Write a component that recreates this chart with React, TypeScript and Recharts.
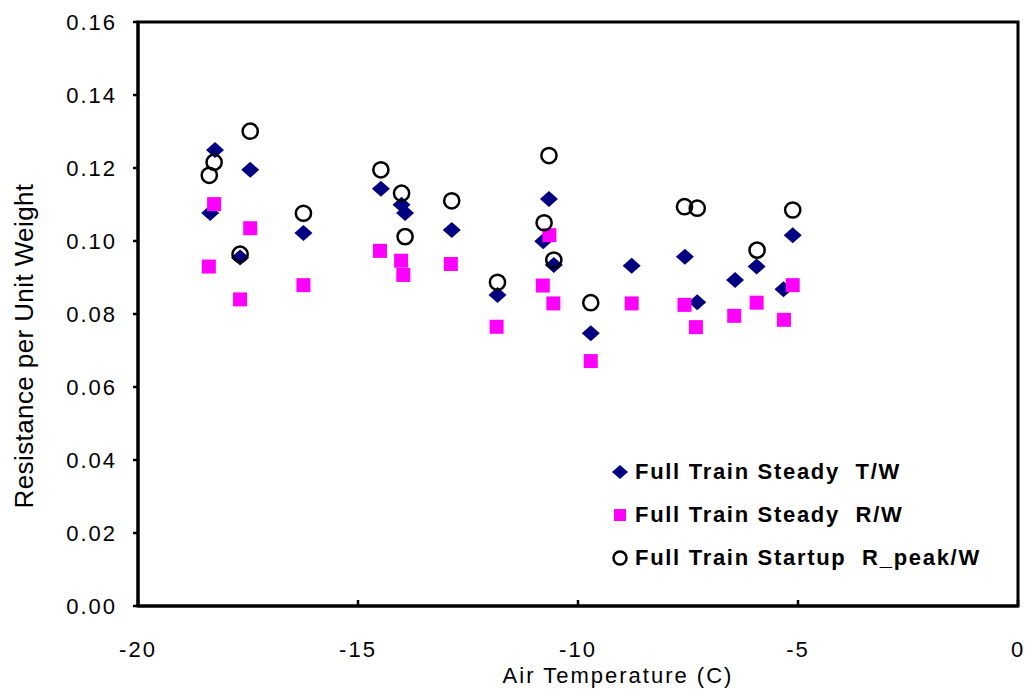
import React from 'react';
import { ScatterChart, Scatter, XAxis, YAxis, ReferenceArea, Legend, Label } from 'recharts';

// Full Train Steady T/W
const tempTW = [-18.36, -18.25, -17.45, -17.68, -16.24, -14.48, -14.01, -13.93, -12.87, -11.83, -10.79, -10.66, -10.55, -9.71, -8.78, -7.57, -7.29, -6.43, -5.94, -5.33, -5.12];
const valTW = [0.1077, 0.1249, 0.1195, 0.0955, 0.1022, 0.1143, 0.1099, 0.1077, 0.103, 0.0852, 0.0999, 0.1115, 0.0934, 0.0747, 0.0932, 0.0957, 0.0832, 0.0893, 0.093, 0.0868, 0.1016];

// Full Train Steady R/W
const tempRW = [-18.39, -18.27, -17.68, -17.45, -16.24, -14.5, -14.02, -13.97, -12.89, -11.85, -10.8, -10.65, -10.56, -9.71, -8.78, -7.58, -7.32, -6.45, -5.94, -5.32, -5.12];
const valRW = [0.093, 0.1101, 0.084, 0.1035, 0.0879, 0.0973, 0.0946, 0.0907, 0.0937, 0.0765, 0.0878, 0.1016, 0.0829, 0.0671, 0.0829, 0.0825, 0.0764, 0.0795, 0.0831, 0.0784, 0.0879];

// Full Train Startup R_peak/W
const tempPK = [-18.38, -18.27, -17.68, -17.45, -16.24, -14.48, -14.01, -13.93, -12.87, -11.83, -10.77, -10.66, -10.55, -9.71, -7.58, -7.29, -5.93, -5.12];
const valPK = [0.118, 0.1216, 0.0964, 0.1301, 0.1076, 0.1195, 0.1131, 0.1012, 0.111, 0.0887, 0.105, 0.1234, 0.0948, 0.0831, 0.1094, 0.109, 0.0975, 0.1085];

const xTicks = [-20, -15, -10, -5, 0];
const yTicks = [0, 0.02, 0.04, 0.06, 0.08, 0.1, 0.12, 0.14, 0.16];

const seriesNames = ['Full Train Steady  T/W', 'Full Train Steady  R/W', 'Full Train Startup  R_peak/W'];

const toPoints = (xs: number[], ys: number[]) => xs.map((x, i) => ({ x, y: ys[i] }));

const NAVY = '#000080';
const MAGENTA = '#ff00ff';
const FONT = 'Arial, "Liberation Sans", sans-serif';

const Diamond = (p: any) => (
  <polygon
    points={`${p.cx},${p.cy - 8} ${p.cx + 9},${p.cy} ${p.cx},${p.cy + 8} ${p.cx - 9},${p.cy}`}
    fill={NAVY}
  />
);
const Square = (p: any) => <rect x={p.cx - 7} y={p.cy - 7} width={14} height={14} fill={MAGENTA} />;
const Ring = (p: any) => <circle cx={p.cx} cy={p.cy} r={7.6} fill="none" stroke="#000" strokeWidth={2.5} />;

function LegendBox() {
  const markers = [
    <polygon key="d" points="10,3 18,10 10,17 2,10" fill={NAVY} />,
    <rect key="s" x={4} y={4} width={12} height={12} fill={MAGENTA} />,
    <circle key="c" cx={10} cy={10} r={6.5} fill="none" stroke="#000" strokeWidth={2.5} />,
  ];
  return (
    <div style={{ fontFamily: FONT, fontSize: 22, fontWeight: 'bold', letterSpacing: 1.7, color: '#000' }}>
      {seriesNames.map((n, i) => (
        <div key={n} style={{ display: 'flex', alignItems: 'center', height: 43, whiteSpace: 'pre' }}>
          <svg width={20} height={20} style={{ marginRight: 5 }}>{markers[i]}</svg>
          <span>{n}</span>
        </div>
      ))}
    </div>
  );
}

export default function App() {
  return (
    <div style={{ position: 'absolute', left: 0, top: 0, width: 1026, height: 698, background: '#fff' }}>
      <ScatterChart width={1026} height={698} margin={{ top: 22, right: 8, bottom: 0, left: 0 }}>
        <XAxis
          type="number"
          dataKey="x"
          domain={[-20, 0]}
          ticks={xTicks}
          height={92}
          axisLine={{ stroke: '#000', strokeWidth: 3 }}
          tickLine={{ stroke: '#000', strokeWidth: 2.5 }}
          tickSize={-6}
          tickMargin={41}
          tick={{ fill: '#000', fontSize: 22, fontFamily: FONT, letterSpacing: 2 }}
        >
          <Label
            content={() => (
              <text x={618} y={683} textAnchor="middle" fontSize={22} fontFamily={FONT} letterSpacing={2} fill="#000">
                Air Temperature  (C)
              </text>
            )}
          />
        </XAxis>
        <YAxis
          type="number"
          dataKey="y"
          domain={[0, 0.16]}
          ticks={yTicks}
          width={138}
          axisLine={{ stroke: '#000', strokeWidth: 3 }}
          tickLine={{ stroke: '#000', strokeWidth: 2.5 }}
          tickSize={5}
          tickMargin={16}
          tickFormatter={(v: number) => v.toFixed(2)}
          tick={{ fill: '#000', fontSize: 22, fontFamily: FONT, letterSpacing: 2 }}
        >
          <Label
            content={() => (
              <text
                x={33}
                y={346}
                transform="rotate(-90 33 346)"
                textAnchor="middle"
                fontSize={26}
                fontFamily={FONT}
                letterSpacing={0.4}
                fill="#000"
              >
                Resistance per Unit Weight
              </text>
            )}
          />
        </YAxis>
        <ReferenceArea x1={-20} x2={0} y1={0} y2={0.16} fill="none" stroke="#000" strokeWidth={3} />
        <Scatter name={seriesNames[0]} data={toPoints(tempTW, valTW)} shape={Diamond} isAnimationActive={false} />
        <Scatter name={seriesNames[1]} data={toPoints(tempRW, valRW)} shape={Square} isAnimationActive={false} />
        <Scatter name={seriesNames[2]} data={toPoints(tempPK, valPK)} shape={Ring} isAnimationActive={false} />
        <Legend
          layout="vertical"
          align="center"
          verticalAlign="middle"
          content={() => <LegendBox />}
          wrapperStyle={{ position: 'absolute', left: 610, top: 450, width: 410 }}
        />
      </ScatterChart>
    </div>
  );
}
